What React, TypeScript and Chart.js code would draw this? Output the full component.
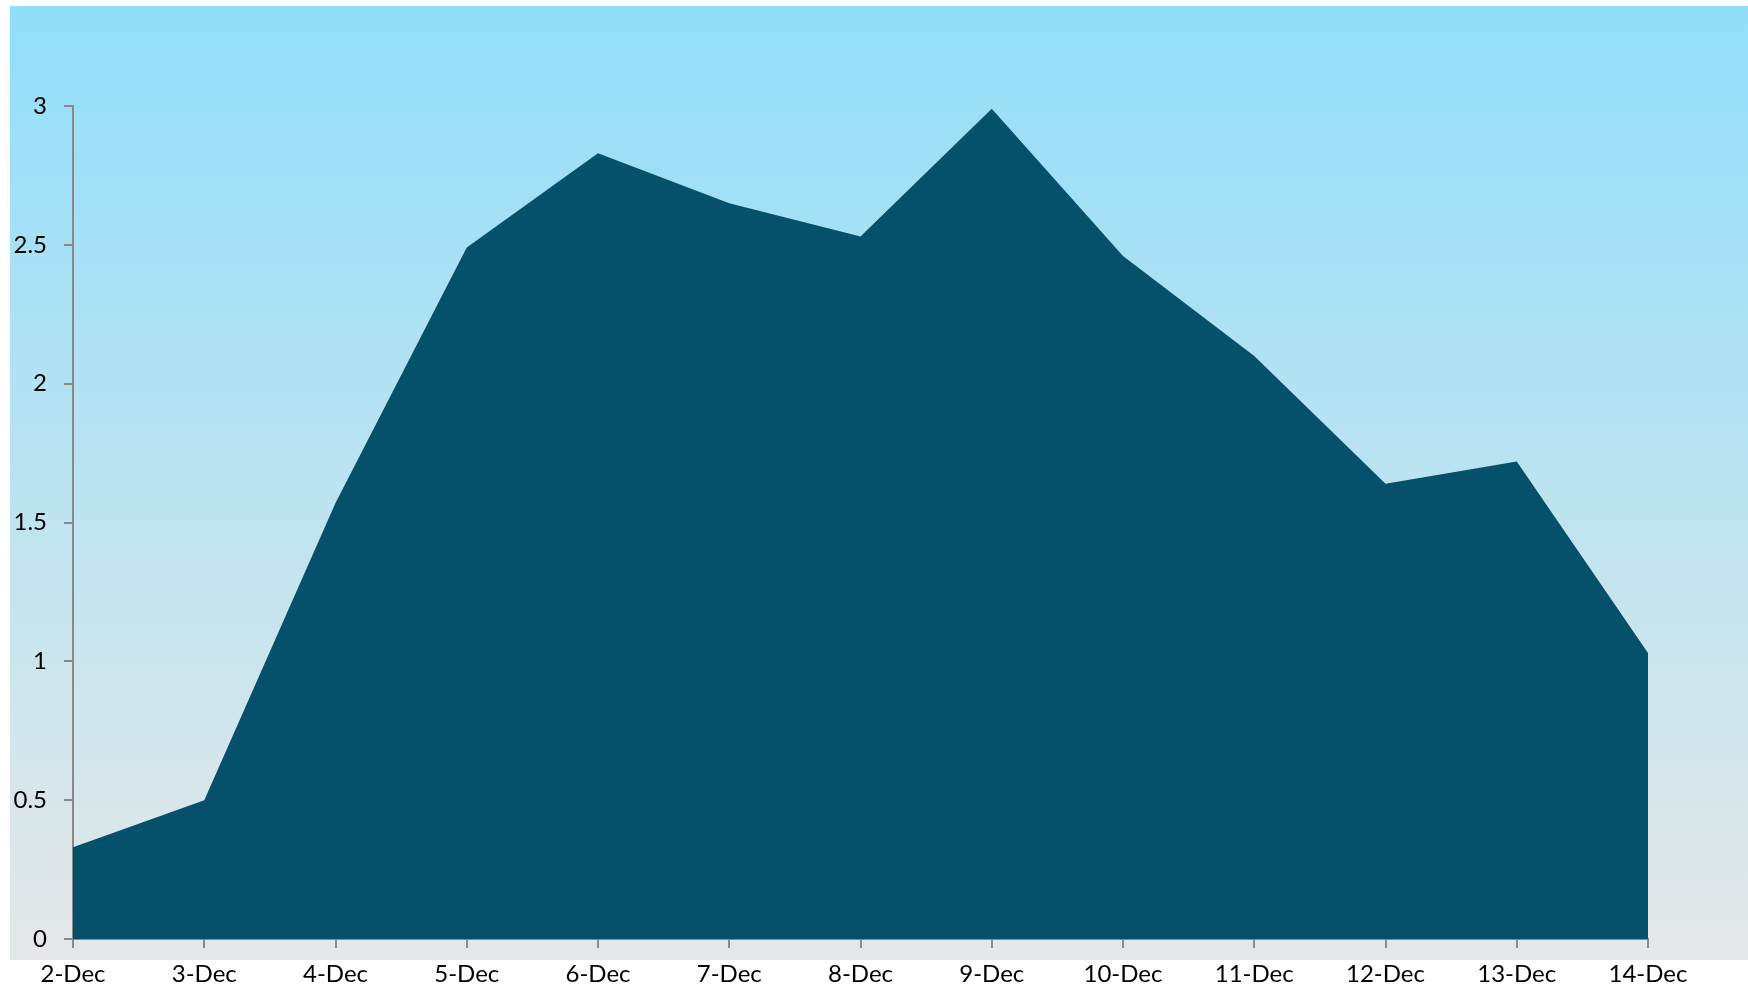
import React, { useEffect, useRef } from "react";
import { Chart, registerables } from "chart.js";

Chart.register(...registerables);

const categories = ["2-Dec", "3-Dec", "4-Dec", "5-Dec", "6-Dec", "7-Dec", "8-Dec", "9-Dec", "10-Dec", "11-Dec", "12-Dec", "13-Dec", "14-Dec"];
const values = [0.33, 0.5, 1.57, 2.49, 2.83, 2.65, 2.53, 2.99, 2.46, 2.1, 1.64, 1.72, 1.03];
const yTickStep = 0.5;

const bgPlugin = {
  id: "bgGradient",
  beforeDraw(chart: any) {
    const ctx = chart.ctx;
    ctx.save();
    const g = ctx.createLinearGradient(0, 6, 0, 960);
    g.addColorStop(0, "rgb(145,222,250)");
    g.addColorStop(1, "rgb(230,232,232)");
    ctx.fillStyle = g;
    ctx.fillRect(10, 6, chart.width - 10, 954);
    ctx.restore();
  },
};

export default function App() {
  const ref = useRef<HTMLCanvasElement>(null);
  useEffect(() => {
    if (!ref.current) return;
    const font = { family: "Lato, 'Open Sans', sans-serif", size: 24 };
    const chart = new Chart(ref.current, {
      type: "line",
      data: {
        labels: categories,
        datasets: [
          {
            data: values,
            fill: "origin",
            backgroundColor: "rgb(5,80,107)",
            borderWidth: 0,
            borderColor: "rgb(5,80,107)",
            pointRadius: 0,
            tension: 0,
          },
        ],
      },
      options: {
        animation: false,
        responsive: false,
        maintainAspectRatio: false,
        layout: { padding: { top: 106, right: 100, left: 0, bottom: 0 } },
        plugins: { legend: { display: false }, tooltip: { enabled: false } },
        scales: {
          x: {
            type: "category",
            offset: false,
            afterFit(scale: any) {
              scale.height = 50;
            },
            grid: { drawOnChartArea: false, drawTicks: true, tickLength: 9, color: "#898989", lineWidth: 2 },
            border: { color: "#898989", width: 2 },
            ticks: { color: "#000", font, padding: 12, maxRotation: 0, autoSkip: false },
          },
          y: {
            min: 0,
            max: 3,
            afterFit(scale: any) {
              scale.width = 73;
            },
            grid: { drawOnChartArea: false, drawTicks: true, tickLength: 9, color: "#898989", lineWidth: 2 },
            border: { color: "#898989", width: 2 },
            ticks: {
              color: "#000",
              font,
              padding: 17,
              stepSize: yTickStep,
              callback: (v: any) => String(Number(v)),
            },
          },
        },
      },
      plugins: [bgPlugin],
    });
    return () => chart.destroy();
  }, []);
  return (
    <div style={{ position: "absolute", left: 0, top: 0, width: 1748, height: 989 }}>
      <canvas ref={ref} width={1748} height={989} style={{ display: "block", width: 1748, height: 989 }} />
    </div>
  );
}
